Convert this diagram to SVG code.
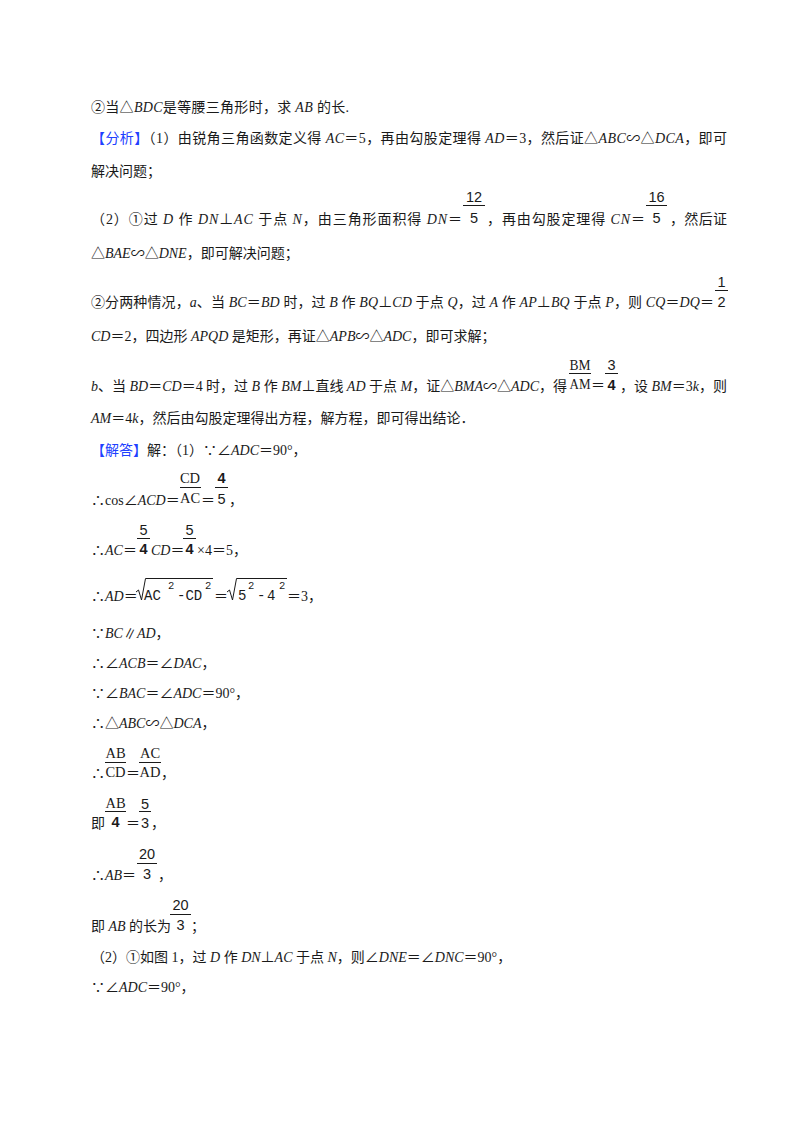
<svg xmlns="http://www.w3.org/2000/svg" width="800" height="1132" viewBox="0 0 800 1132">
<style>
text{font-family:"Liberation Serif","Noto Sans CJK SC",serif;font-size:14px;fill:#1a1a1a}
.i{font-style:italic}
.b{fill:#2040ff}
.n{font-family:"Liberation Sans","Noto Sans CJK SC",sans-serif;font-size:14.5px}
.nb{font-family:"Liberation Sans",sans-serif;font-size:14.5px;font-weight:bold}
.l{font-family:"Liberation Serif",serif;font-size:14.5px}
.m{font-family:"Liberation Mono",monospace;font-size:14px}
.s{font-family:"Liberation Mono",monospace;font-size:10.5px}
.c{text-anchor:middle}
.bar{stroke:#1a1a1a;stroke-width:1}
.rad{fill:none;stroke:#1a1a1a;stroke-width:1}
</style>
<rect width="800" height="1132" fill="#fff"/>

<g id="question">
<text x="91" y="112" textLength="258" lengthAdjust="spacing">②当△<tspan class="i">BDC</tspan>是等腰三角形时，求 <tspan class="i">AB</tspan> 的长.</text>
</g>

<g id="analysis">
<text x="91" y="143" textLength="636" lengthAdjust="spacing"><tspan class="b">【分析】</tspan>（1）由锐角三角函数定义得 <tspan class="i">AC</tspan>＝5，再由勾股定理得 <tspan class="i">AD</tspan>＝3，然后证△<tspan class="i">ABC</tspan>∽△<tspan class="i">DCA</tspan>，即可</text>
<text x="91" y="176">解决问题；</text>

<text x="91" y="224" textLength="371" lengthAdjust="spacing">（2）①过 <tspan class="i">D</tspan> 作 <tspan class="i">DN</tspan>⊥<tspan class="i">AC</tspan> 于点 <tspan class="i">N</tspan>，由三角形面积得 <tspan class="i">DN</tspan>＝</text>
<text class="n c" x="474" y="202">12</text><line class="bar" x1="463" y1="205.5" x2="485" y2="205.5"/><text class="n c" x="474" y="223">5</text>
<text x="487" y="224" textLength="158" lengthAdjust="spacing">，再由勾股定理得 <tspan class="i">CN</tspan>＝</text>
<text class="n c" x="656.5" y="202">16</text><line class="bar" x1="646" y1="205.5" x2="667" y2="205.5"/><text class="n c" x="656.5" y="223">5</text>
<text x="670" y="224" textLength="57" lengthAdjust="spacing">，然后证</text>
<text x="91" y="258"><tspan>△</tspan><tspan class="i">BAE</tspan>∽△<tspan class="i">DNE</tspan>，即可解决问题；</text>

<text x="91" y="307" textLength="623" lengthAdjust="spacing">②分两种情况，<tspan class="i">a</tspan>、当 <tspan class="i">BC</tspan>＝<tspan class="i">BD</tspan> 时，过 <tspan class="i">B</tspan> 作 <tspan class="i">BQ</tspan>⊥<tspan class="i">CD</tspan> 于点 <tspan class="i">Q</tspan>，过 <tspan class="i">A</tspan> 作 <tspan class="i">AP</tspan>⊥<tspan class="i">BQ</tspan> 于点 <tspan class="i">P</tspan>，则 <tspan class="i">CQ</tspan>＝<tspan class="i">DQ</tspan>＝</text>
<text class="n c" x="721.5" y="287">1</text><line class="bar" x1="715" y1="290.5" x2="728" y2="290.5"/><text class="n c" x="721.5" y="307">2</text>
<text x="91" y="341"><tspan class="i">CD</tspan>＝2，四边形 <tspan class="i">APQD</tspan> 是矩形，再证△<tspan class="i">APB</tspan>∽△<tspan class="i">ADC</tspan>，即可求解；</text>

<text x="91" y="391" textLength="476" lengthAdjust="spacing"><tspan class="i">b</tspan>、当 <tspan class="i">BD</tspan>＝<tspan class="i">CD</tspan>＝4 时，过 <tspan class="i">B</tspan> 作 <tspan class="i">BM</tspan>⊥直线 <tspan class="i">AD</tspan> 于点 <tspan class="i">M</tspan>，证△<tspan class="i">BMA</tspan>∽△<tspan class="i">ADC</tspan>，得</text>
<text class="l c" x="580" y="370" textLength="21" lengthAdjust="spacingAndGlyphs">BM</text><line class="bar" x1="569" y1="373.5" x2="591" y2="373.5"/><text class="l c" x="580" y="389" textLength="21" lengthAdjust="spacingAndGlyphs">AM</text>
<text x="591" y="390">＝</text>
<text class="n c" x="611.5" y="370">3</text><line class="bar" x1="605" y1="373.5" x2="618" y2="373.5"/><text class="nb c" x="611.5" y="390">4</text>
<text x="620" y="391" textLength="107" lengthAdjust="spacing">，设 <tspan class="i">BM</tspan>＝3<tspan class="i">k</tspan>，则</text>
<text x="91" y="423"><tspan class="i">AM</tspan>＝4<tspan class="i">k</tspan>，然后由勾股定理得出方程，解方程，即可得出结论．</text>
</g>

<g id="solution">
<text x="91" y="455"><tspan class="b">【解答】</tspan>解：（1）∵∠<tspan class="i">ADC</tspan>＝90°，</text>

<text x="91" y="505">∴cos∠<tspan class="i">ACD</tspan>＝</text>
<text class="l c" x="190" y="483">CD</text><line class="bar" x1="180" y1="487.5" x2="201" y2="487.5"/><text class="l c" x="190" y="503">AC</text>
<text x="201" y="505">＝</text>
<text class="nb c" x="221.5" y="483">4</text><line class="bar" x1="215" y1="487.5" x2="228" y2="487.5"/><text class="n c" x="221.5" y="504">5</text>
<text x="229" y="505">，</text>

<text x="91" y="555">∴<tspan class="i">AC</tspan>＝</text>
<text class="n c" x="143.5" y="535">5</text><line class="bar" x1="137" y1="538.5" x2="150" y2="538.5"/><text class="nb c" x="143.5" y="554">4</text>
<text x="151" y="555"><tspan class="i">CD</tspan>＝</text>
<text class="n c" x="189.5" y="535">5</text><line class="bar" x1="183" y1="538.5" x2="196" y2="538.5"/><text class="nb c" x="189.5" y="554">4</text>
<text x="197" y="555">×4＝5，</text>

<text x="91" y="601">∴<tspan class="i">AD</tspan>＝</text>
<polyline class="rad" points="136,592 138.5,590 141.5,600 145.5,578.5 213,578.5"/>
<text class="m" x="144" y="600">AC</text><text class="s" x="168" y="589">2</text>
<text class="m" x="177" y="600">-CD</text><text class="s" x="205" y="589">2</text>
<text x="214" y="601">＝</text>
<polyline class="rad" points="227,592 229.5,590 232.5,600 236.5,578.5 287,578.5"/>
<text class="m" x="238" y="600">5</text><text class="s" x="248" y="589">2</text>
<text class="m" x="257" y="600">-</text><text class="m" x="267" y="600">4</text><text class="s" x="279" y="589">2</text>
<text x="287" y="601">＝3，</text>

<text x="91" y="638">∵<tspan class="i">BC</tspan>∥<tspan class="i">AD</tspan>，</text>
<text x="91" y="668">∴∠<tspan class="i">ACB</tspan>＝∠<tspan class="i">DAC</tspan>，</text>
<text x="91" y="698">∵∠<tspan class="i">BAC</tspan>＝∠<tspan class="i">ADC</tspan>＝90°，</text>
<text x="91" y="728">∴△<tspan class="i">ABC</tspan>∽△<tspan class="i">DCA</tspan>，</text>

<text x="91" y="778">∴</text>
<text class="l c" x="115.5" y="758">AB</text><line class="bar" x1="105" y1="762.5" x2="126" y2="762.5"/><text class="l c" x="115.5" y="777">CD</text>
<text x="126" y="778">＝</text>
<text class="l c" x="150" y="758">AC</text><line class="bar" x1="139" y1="762.5" x2="161" y2="762.5"/><text class="l c" x="150" y="777">AD</text>
<text x="161" y="778">，</text>

<text x="91" y="828">即</text>
<text class="l c" x="115.5" y="808">AB</text><line class="bar" x1="105" y1="811.5" x2="126" y2="811.5"/><text class="nb c" x="115.5" y="827">4</text>
<text x="126" y="828">＝</text>
<text class="n c" x="145" y="809">5</text><line class="bar" x1="139" y1="811.5" x2="151" y2="811.5"/><text class="n c" x="145" y="828">3</text>
<text x="151" y="828">，</text>

<text x="91" y="880">∴<tspan class="i">AB</tspan>＝</text>
<text class="n c" x="147" y="859">20</text><line class="bar" x1="137" y1="863.5" x2="157" y2="863.5"/><text class="n c" x="147" y="879">3</text>
<text x="158" y="880">，</text>

<text x="91" y="931">即 <tspan class="i">AB</tspan> 的长为</text>
<text class="n c" x="180.5" y="910">20</text><line class="bar" x1="170" y1="914.5" x2="191" y2="914.5"/><text class="n c" x="180.5" y="930">3</text>
<text x="191" y="931">；</text>

<text x="91" y="962">（2）①如图 1，过 <tspan class="i">D</tspan> 作 <tspan class="i">DN</tspan>⊥<tspan class="i">AC</tspan> 于点 <tspan class="i">N</tspan>，则∠<tspan class="i">DNE</tspan>＝∠<tspan class="i">DNC</tspan>＝90°，</text>
<text x="91" y="992">∵∠<tspan class="i">ADC</tspan>＝90°，</text>
</g>
</svg>
